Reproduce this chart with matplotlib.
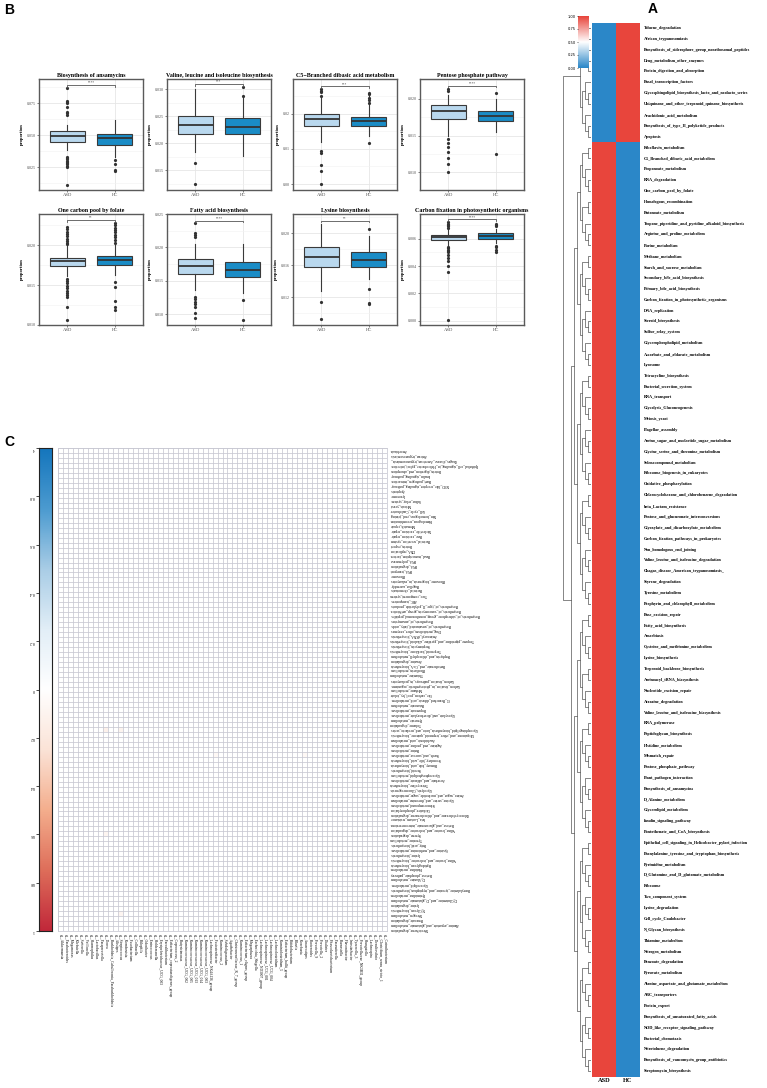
import numpy as np
import matplotlib
matplotlib.use("Agg")
import matplotlib.pyplot as plt
from matplotlib.colors import LinearSegmentedColormap
from matplotlib.ticker import AutoMinorLocator

# ---------------- data: panel B boxplots ----------------
box_titles = ["Biosynthesis of ansamycins", "Valine, leucine and isoleucine biosynthesis",
              "C5\u2212Branched dibasic acid metabolism", "Pentose phosphate pathway",
              "One carbon pool by folate", "Fatty acid biosynthesis", "Lysine biosynthesis",
              "Carbon fixation in photosynthetic organisms"]
groups = ["ASD", "HC"]
sig_labels = ["****", "***", "***", "****", "**", "****", "**", "****"]

asd_q1 = [0.0448, 0.0217, 0.0165, 0.0173, 0.0174, 0.0160, 0.0158, 0.0059]
asd_med = [0.0492, 0.0233, 0.0185, 0.0183, 0.0180, 0.0172, 0.0170, 0.0061]
asd_q3 = [0.0531, 0.0251, 0.0199, 0.0191, 0.0184, 0.0183, 0.01825, 0.0063]
asd_lo = [0.0380, 0.0184, 0.0121, 0.0150, 0.0161, 0.0137, 0.0128, 0.0055]
asd_hi = [0.0580, 0.0300, 0.0246, 0.0205, 0.0199, 0.0205, 0.0212, 0.0067]
asd_fliers = [
    [0.087, 0.077, 0.076, 0.075, 0.072, 0.068, 0.067, 0.066, 0.033, 0.032, 0.031,
     0.030, 0.029, 0.028, 0.027, 0.026, 0.025, 0.011],
    [0.0164, 0.0125],
    [0.0270, 0.0265, 0.0262, 0.0252, 0.0093, 0.0089, 0.0055, 0.0037, 0.0000],
    [0.0214, 0.0210, 0.0145, 0.0140, 0.0135, 0.0128, 0.0120, 0.0112, 0.0100],
    [0.0223, 0.0220, 0.0217, 0.0214, 0.0211, 0.0208, 0.0205, 0.0203, 0.0201, 0.0158,
     0.0155, 0.0152, 0.0149, 0.0146, 0.0143, 0.0140, 0.0137, 0.0135, 0.0123, 0.0106],
    [0.0236, 0.0222, 0.0219, 0.0216, 0.0126, 0.0123, 0.0119, 0.0116, 0.0111, 0.0102, 0.0094],
    [0.0114, 0.0093],
    [0.0072, 0.0071, 0.0070, 0.0069, 0.0068, 0.0054, 0.0053, 0.0052, 0.0051, 0.0050,
     0.0048, 0.0046, 0.0044, 0.0040, 0.0036, 0.0001],
]

hc_q1 = [0.0424, 0.0216, 0.0165, 0.0170, 0.0175, 0.0156, 0.0158, 0.0060]
hc_med = [0.0474, 0.0230, 0.0179, 0.0177, 0.0181, 0.0167, 0.0167, 0.0062]
hc_q3 = [0.0510, 0.0247, 0.0190, 0.0184, 0.0187, 0.0178, 0.0177, 0.0064]
hc_lo = [0.0330, 0.0177, 0.0137, 0.0155, 0.0163, 0.0132, 0.0142, 0.0057]
hc_hi = [0.0620, 0.0283, 0.0250, 0.0200, 0.0200, 0.0205, 0.0196, 0.0067]
hc_fliers = [
    [0.0305, 0.027, 0.0225, 0.022],
    [0.0305, 0.0288],
    [0.026, 0.0255, 0.0245, 0.024, 0.023, 0.0117],
    [0.0208, 0.0125],
    [0.0228, 0.0225, 0.0222, 0.0219, 0.0216, 0.0213, 0.0210, 0.0206, 0.0203, 0.0154,
     0.0147, 0.0130, 0.0122, 0.0119],
    [0.0122, 0.0092],
    [0.0205, 0.0130, 0.0113, 0.0111],
    [0.0071, 0.0070, 0.0069, 0.0055, 0.0054, 0.0052, 0.0050],
]

box_ylims = [(0.007, 0.094), (0.0113, 0.0319), (-0.0017, 0.0299), (0.0076, 0.0227),
             (0.0100, 0.0239), (0.0084, 0.0250), (0.0085, 0.0224), (-0.0003, 0.0078)]
box_yticks = [[0.025, 0.05, 0.075], [0.015, 0.02, 0.025, 0.03], [0, 0.01, 0.02],
              [0.01, 0.015, 0.02], [0.01, 0.015, 0.02], [0.01, 0.015, 0.02, 0.025],
              [0.012, 0.016, 0.02], [0, 0.002, 0.004, 0.006]]
box_decimals = [3, 3, 2, 3, 3, 3, 3, 3]

# ---------------- data: panel A heatmap ----------------
pathways = [
    "Toluene_degradation", "African_trypanosomiasis",
    "Biosynthesis_of_siderophore_group_nonribosomal_peptides", "Drug_metabolism_other_enzymes",
    "Protein_digestion_and_absorption", "Basal_transcription_factors",
    "Glycosphingolipid_biosynthesis_lacto_and_neolacto_series",
    "Ubiquinone_and_other_terpenoid_quinone_biosynthesis", "Arachidonic_acid_metabolism",
    "Biosynthesis_of_type_II_polyketide_products", "Apoptosis", "Riboflavin_metabolism",
    "C5_Branched_dibasic_acid_metabolism", "Propanoate_metabolism", "RNA_degradation",
    "One_carbon_pool_by_folate", "Homologous_recombination", "Butanoate_metabolism",
    "Tropane_piperidine_and_pyridine_alkaloid_biosynthesis", "Arginine_and_proline_metabolism",
    "Purine_metabolism", "Methane_metabolism", "Starch_and_sucrose_metabolism",
    "Secondary_bile_acid_biosynthesis", "Primary_bile_acid_biosynthesis",
    "Carbon_fixation_in_photosynthetic_organisms", "DNA_replication", "Steroid_biosynthesis",
    "Sulfur_relay_system", "Glycerophospholipid_metabolism", "Ascorbate_and_aldarate_metabolism",
    "Lysosome", "Tetracycline_biosynthesis", "Bacterial_secretion_system", "RNA_transport",
    "Glycolysis_Gluconeogenesis", "Meiosis_yeast", "Flagellar_assembly",
    "Amino_sugar_and_nucleotide_sugar_metabolism", "Glycine_serine_and_threonine_metabolism",
    "Selenocompound_metabolism", "Ribosome_biogenesis_in_eukaryotes", "Oxidative_phosphorylation",
    "Chlorocyclohexane_and_chlorobenzene_degradation", "beta_Lactam_resistance",
    "Pentose_and_glucuronate_interconversions", "Glyoxylate_and_dicarboxylate_metabolism",
    "Carbon_fixation_pathways_in_prokaryotes", "Non_homologous_end_joining",
    "Valine_leucine_and_isoleucine_degradation", "Chagas_disease_American_trypanosomiasis_",
    "Styrene_degradation", "Tyrosine_metabolism", "Porphyrin_and_chlorophyll_metabolism",
    "Base_excision_repair", "Fatty_acid_biosynthesis", "Amoebiasis",
    "Cysteine_and_methionine_metabolism", "Lysine_biosynthesis", "Terpenoid_backbone_biosynthesis",
    "Aminoacyl_tRNA_biosynthesis", "Nucleotide_excision_repair", "Atrazine_degradation",
    "Valine_leucine_and_isoleucine_biosynthesis", "RNA_polymerase", "Peptidoglycan_biosynthesis",
    "Histidine_metabolism", "Mismatch_repair", "Pentose_phosphate_pathway",
    "Plant_pathogen_interaction", "Biosynthesis_of_ansamycins", "D_Alanine_metabolism",
    "Glycerolipid_metabolism", "Insulin_signaling_pathway", "Pantothenate_and_CoA_biosynthesis",
    "Epithelial_cell_signaling_in_Helicobacter_pylori_infection",
    "Phenylalanine_tyrosine_and_tryptophan_biosynthesis", "Pyrimidine_metabolism",
    "D_Glutamine_and_D_glutamate_metabolism", "Ribosome", "Two_component_system",
    "Lysine_degradation", "Cell_cycle_Caulobacter", "N_Glycan_biosynthesis", "Thiamine_metabolism",
    "Nitrogen_metabolism", "Benzoate_degradation", "Pyruvate_metabolism",
    "Alanine_aspartate_and_glutamate_metabolism", "ABC_transporters", "Protein_export",
    "Biosynthesis_of_unsaturated_fatty_acids", "NOD_like_receptor_signaling_pathway",
    "Bacterial_chemotaxis", "Nitrotoluene_degradation",
    "Biosynthesis_of_vancomycin_group_antibiotics", "Streptomycin_biosynthesis",
]
asd_scaled = [0, 0, 0, 0, 0, 0, 0, 0, 0, 0, 0,
              1, 1, 1, 1, 1, 1, 1, 1, 1, 1, 1, 1, 1, 1, 1, 1, 1, 1, 1, 1,
              1, 1, 1, 1, 1, 1, 1, 1, 1, 1, 1, 1, 1, 1, 1, 1, 1, 1, 1, 1,
              1, 1, 1, 1, 1, 1, 1, 1, 1, 1, 1, 1, 1, 1, 1, 1, 1, 1, 1, 1,
              1, 1, 1, 1, 1, 1, 1, 1, 1, 1, 1, 1, 1, 1, 1, 1, 1, 1, 1, 1,
              1, 1, 1, 1, 1, 1]
hc_scaled = [1, 1, 1, 1, 1, 1, 1, 1, 1, 1, 1,
             0, 0, 0, 0, 0, 0, 0, 0, 0, 0, 0, 0, 0, 0, 0, 0, 0, 0, 0, 0,
             0, 0, 0, 0, 0, 0, 0, 0, 0, 0, 0, 0, 0, 0, 0, 0, 0, 0, 0, 0,
             0, 0, 0, 0, 0, 0, 0, 0, 0, 0, 0, 0, 0, 0, 0, 0, 0, 0, 0, 0,
             0, 0, 0, 0, 0, 0, 0, 0, 0, 0, 0, 0, 0, 0, 0, 0, 0, 0, 0, 0,
             0, 0, 0, 0, 0, 0]
cluster_sizes = [11, 86]

# ---------------- data: panel C correlation grid ----------------
genera = [
    "Akkermansia", "Parabacteroides", "Megamonas", "Klebsiella", "Sutterella", "Veillonella",
    "Haemophilus", "Lactobacillus", "Paraprevotella", "Dorea",
    "Burkholderia_Caballeronia_Paraburkholderia", "Alistipes", "Streptococcus", "Romboutsia",
    "Fusobacterium", "Collinsella", "Bilophila", "Odoribacter", "Enterococcus", "Holdemanella",
    "Erysipelotrichaceae_UCG_003", "Faecalibacterium", "Eubacterium_coprostanoligenes_group",
    "Coprococcus_2", "Butyricimonas", "Ruminococcaceae_UCG_002", "Ruminococcaceae_UCG_005",
    "Ruminococcaceae_UCG_013", "Ruminococcaceae_UCG_014", "Ruminococcaceae_UCG_003",
    "Lachnospiraceae_NK4A136_group", "Fusicatenibacter", "Ruminococcus_2", "Subdoligranulum",
    "Agathobacter", "Christensenellaceae_R_7_group", "Ruminococcus_1", "Eubacterium_eligens_group",
    "Megasphaera", "Escherichia_Shigella", "Lachnospiraceae_ND3007_group",
    "Lachnospiraceae_UCG_001", "Lachnospiraceae_UCG_004", "Lachnoclostridium",
    "Ruminiclostridium_5", "Eubacterium_hallii_group", "Bifidobacterium", "Blautia", "Roseburia",
    "Anaerostipes", "Bacteroides", "Prevotella_9", "Prevotella_2", "Dialister",
    "Phascolarctobacterium", "Parasutterella", "Barnesiella", "Flavonifractor", "Intestinibacter",
    "Tyzzerella_3", "Prevotellaceae_NK3B31_group", "Hungatella", "Lachnospira", "Desulfovibrio",
    "Clostridium_sensu_stricto_1", "Catenibacterium",
]
c_rows_read = [
    "Amoebiasis", "African_trypanosomiasis", "Chagas_disease_American_trypanosomiasis_",
    "Epithelial_cell_signaling_in_Helicobacter_pylori_infection", "Protein_digestion_and_absorption",
    "Insulin_signaling_pathway", "Plant_pathogen_interaction", "NOD_like_receptor_signaling_pathway",
    "Apoptosis", "Lysosome", "Sulfur_relay_system", "Meiosis_yeast", "Cell_cycle_Caulobacter",
    "Non_homologous_end_joining", "Homologous_recombination", "Mismatch_repair",
    "Nucleotide_excision_repair", "Base_excision_repair", "Bacterial_secretion_system",
    "Protein_export", "DNA_replication", "Basal_transcription_factors", "RNA_polymerase",
    "RNA_degradation", "RNA_transport", "Ribosome", "Ribosome_biogenesis_in_eukaryotes",
    "Flagellar_assembly", "Bacterial_chemotaxis", "Two_component_system", "ABC_transporters",
    "Biosynthesis_of_type_II_polyketide_products", "Biosynthesis_of_vancomycin_group_antibiotics",
    "Biosynthesis_of_siderophore_group_nonribosomal_peptides", "Biosynthesis_of_ansamycins",
    "Biosynthesis_of_unsaturated_fatty_acids", "Drug_metabolism_other_enzymes",
    "Aminoacyl_tRNA_biosynthesis", "Tropane_piperidine_and_pyridine_alkaloid_biosynthesis",
    "Streptomycin_biosynthesis", "Terpenoid_backbone_biosynthesis",
    "Porphyrin_and_chlorophyll_metabolism", "Atrazine_degradation",
    "Pantothenate_and_CoA_biosynthesis", "Riboflavin_metabolism", "Thiamine_metabolism",
    "Carbon_fixation_pathways_in_prokaryotes", "Carbon_fixation_in_photosynthetic_organisms",
    "Methane_metabolism", "One_carbon_pool_by_folate", "C5_Branched_dibasic_acid_metabolism",
    "Butanoate_metabolism", "Propanoate_metabolism", "Glyoxylate_and_dicarboxylate_metabolism",
    "Pyruvate_metabolism",
]
c_rows = c_rows_read + [p for p in pathways if p not in c_rows_read]
# the few faintly coloured cells (row index, column index, r)
c_cell_row = [56, 56, 61, 61, 77, 93]
c_cell_col = [9, 12, 31, 49, 9, 12]
c_cell_val = [0.12, 0.10, 0.06, 0.06, 0.08, 0.08]
c_ticks = [-1, -0.8, -0.6, -0.4, -0.2, 0, 0.2, 0.4, 0.6, 0.8, 1]

# ---------------- figure ----------------
W, H = 767, 1088
fig = plt.figure(figsize=(W / 100, H / 100), dpi=100)
serif = "Liberation Serif"


def px_axes(x0, y0, x1, y1):
    return fig.add_axes([x0 / W, 1 - y1 / H, (x1 - x0) / W, (y1 - y0) / H])


def px_text(x, y, s, **kw):
    return fig.text(x / W, 1 - y / H, s, **kw)


# panel letters
px_text(4, 10, "B", fontsize=10, fontweight="bold", family="Liberation Sans", va="center")
px_text(4, 442, "C", fontsize=10, fontweight="bold", family="Liberation Sans", va="center")
px_text(648, 9, "A", fontsize=10, fontweight="bold", family="Liberation Sans", va="center")

# ---------------- panel B ----------------
asd_color = "#B9D8EE"
hc_color = "#1A8CC6"
box_left = [39, 167, 293, 420]
box_top = [79, 214]
box_w, box_h = 104, 111
for i in range(8):
    r, c = divmod(i, 4)
    ax = px_axes(box_left[c], box_top[r], box_left[c] + box_w, box_top[r] + box_h)
    stats = [
        dict(med=asd_med[i], q1=asd_q1[i], q3=asd_q3[i], whislo=asd_lo[i], whishi=asd_hi[i],
             fliers=asd_fliers[i], label=groups[0]),
        dict(med=hc_med[i], q1=hc_q1[i], q3=hc_q3[i], whislo=hc_lo[i], whishi=hc_hi[i],
             fliers=hc_fliers[i], label=groups[1]),
    ]
    bp = ax.bxp(stats, positions=[1, 2], widths=0.75, patch_artist=True, showcaps=False,
                boxprops=dict(edgecolor="#3a3a3a", linewidth=0.8),
                medianprops=dict(color="#333333", linewidth=1.3),
                whiskerprops=dict(color="#3a3a3a", linewidth=0.8),
                flierprops=dict(marker="o", markersize=2.3, markerfacecolor="#333333",
                                markeredgecolor="#333333", markeredgewidth=0))
    for patch, col in zip(bp["boxes"], [asd_color, hc_color]):
        patch.set_facecolor(col)
    ax.set_xlim(0.4, 2.6)
    ax.set_ylim(*box_ylims[i])
    ax.set_yticks(box_yticks[i])
    ax.set_yticklabels([f"{v:.{box_decimals[i]}f}" for v in box_yticks[i]])
    ax.yaxis.set_minor_locator(AutoMinorLocator(2))
    ax.set_axisbelow(True)
    ax.grid(which="major", color="#E6E6E6", linewidth=0.6)
    ax.grid(which="minor", axis="y", color="#F2F2F2", linewidth=0.4)
    ax.tick_params(which="major", length=1.5, width=0.5, labelsize=2.9, pad=1,
                   colors="#4D4D4D")
    ax.tick_params(axis="x", labelsize=3.3)
    ax.tick_params(which="minor", length=0)
    for lab in ax.get_xticklabels() + ax.get_yticklabels():
        lab.set_family(serif)
    for s in ax.spines.values():
        s.set_color("#5A5A5A")
        s.set_linewidth(1.0)
    ax.set_ylabel("proportion", fontsize=3.4, fontweight="bold", family=serif, labelpad=1.5)
    ax.set_title(box_titles[i], fontsize=4.3, fontweight="bold", family=serif, pad=1.5)
    # significance bracket, kept inside the panel
    lo, hi = box_ylims[i]
    span = hi - lo
    top = max(max(asd_fliers[i] + [asd_hi[i]]), max(hc_fliers[i] + [hc_hi[i]]))
    yb = min(top + 0.025 * span, hi - 0.045 * span)
    ax.plot([1, 1, 2, 2], [yb - 0.015 * span, yb, yb, yb - 0.015 * span],
            color="#555555", linewidth=0.6)
    ax.text(1.5, yb + 0.004 * span, sig_labels[i], ha="center", va="bottom", fontsize=2.4,
            color="#333333")

# ---------------- panel A ----------------
cmap_a = LinearSegmentedColormap.from_list("a", ["#2B87C8", "#FFFFFF", "#E8453C"])
hm_x0, hm_x1 = 592, 640
hm_y0, hm_y1 = 22.6, 1076.5
n = len(pathways)
row_h = (hm_y1 - hm_y0) / n
axh = px_axes(hm_x0, hm_y0, hm_x1, hm_y1)
mat = np.column_stack([asd_scaled, hc_scaled])
axh.pcolormesh(mat, cmap=cmap_a, vmin=0, vmax=1)
axh.set_xlim(0, 2)
axh.set_ylim(n, 0)
axh.axis("off")
for k, name in enumerate(pathways):
    px_text(hm_x1 + 4, hm_y0 + row_h * (k + 0.5), name, fontsize=3.1, fontweight="bold",
            family=serif, va="center", ha="left")
for j, g in enumerate(groups):
    px_text(hm_x0 + (hm_x1 - hm_x0) * (j + 0.5) / 2, hm_y1 + 2, g, fontsize=4.6,
            fontweight="bold", family=serif, ha="center", va="top")

# dendrogram (balanced tree inside each cluster)
segs = []


def build(lo, hi):
    if hi - lo == 1:
        return lo + 0.5, 0.0
    mid = (lo + hi) // 2
    y1, h1 = build(lo, mid)
    y2, h2 = build(mid, hi)
    h = max(h1, h2) + 1
    segs.append(([h1, h, h, h2], [y1, y1, y2, y2]))
    return (y1 + y2) / 2, h


ya, ha_ = build(0, cluster_sizes[0])
yb_, hb = build(cluster_sizes[0], n)
root = max(ha_, hb) + 3
segs.append(([ha_, root, root, hb], [ya, ya, yb_, yb_]))
axd = px_axes(562, hm_y0, hm_x0 - 1, hm_y1)
for xs, ys in segs:
    axd.plot(xs, ys, color="#555555", linewidth=0.5)
axd.set_xlim(root * 1.02, 0)
axd.set_ylim(n, 0)
axd.axis("off")

# colour key
axk = px_axes(578, 16, 589, 68)
axk.imshow(np.linspace(1, 0, 100)[:, None], cmap=cmap_a, aspect="auto",
           extent=(0, 1, 0, 1), origin="upper")
axk.set_xticks([])
axk.yaxis.tick_left()
axk.set_yticks([0, 0.25, 0.5, 0.75, 1.0])
axk.set_yticklabels(["0.00", "0.25", "0.50", "0.75", "1.00"])
axk.tick_params(length=1, width=0.4, labelsize=2.6, pad=0.8)
for s in axk.spines.values():
    s.set_visible(False)

# ---------------- panel C ----------------
cmap_c = LinearSegmentedColormap.from_list(
    "c", ["#1576BD", "#4C9BD0", "#A9CDE6", "#E2EEF7", "#FFFFFF",
          "#FBE3D7", "#F4AE8D", "#DE6E5A", "#C1283A"])
gx0, gx1, gy0, gy1 = 58, 387, 448, 931
nr, nc = len(c_rows), len(genera)
axc = px_axes(gx0, gy0, gx1, gy1)
grid = np.full((nr, nc), np.nan)
for r, c, v in zip(c_cell_row, c_cell_col, c_cell_val):
    grid[r, c] = v
axc.imshow(grid, cmap=cmap_c, vmin=-1, vmax=1, aspect="auto", interpolation="nearest")
axc.set_xticks(np.arange(-0.5, nc, 1), minor=True)
axc.set_yticks(np.arange(-0.5, nr, 1), minor=True)
axc.set_xticks([])
axc.set_yticks([])
axc.grid(which="minor", color="#C8C8D2", linewidth=0.55)
axc.tick_params(which="both", length=0)
for s in axc.spines.values():
    s.set_color("#C8C8D2")
    s.set_linewidth(0.55)
cw = (gx1 - gx0) / nc
ch = (gy1 - gy0) / nr
for k, name in enumerate(c_rows):
    px_text(gx1 + 3, gy0 + ch * (k + 0.5), name, fontsize=2.6, family=serif,
            rotation=180, ha="left", va="center")
for j, name in enumerate(genera):
    px_text(gx0 + cw * (j + 0.5), gy1 + 3, "g__" + name, fontsize=2.6, family=serif,
            rotation=270, ha="center", va="top")

# colour bar of panel C
axcb = px_axes(39, gy0, 52, gy1)
axcb.imshow(np.linspace(-1, 1, 256)[:, None], cmap=cmap_c, vmin=-1, vmax=1, aspect="auto",
            extent=(0, 1, 1, -1), origin="upper")
axcb.set_xticks([])
axcb.set_yticks(c_ticks)
axcb.set_yticklabels([f"{t:g}" for t in c_ticks], rotation=180)
axcb.tick_params(length=2, width=0.5, labelsize=2.8, pad=1)
for lab in axcb.get_yticklabels():
    lab.set_family(serif)
for s in axcb.spines.values():
    s.set_color("#222222")
    s.set_linewidth(0.8)

fig.savefig("out.png", dpi=100)
